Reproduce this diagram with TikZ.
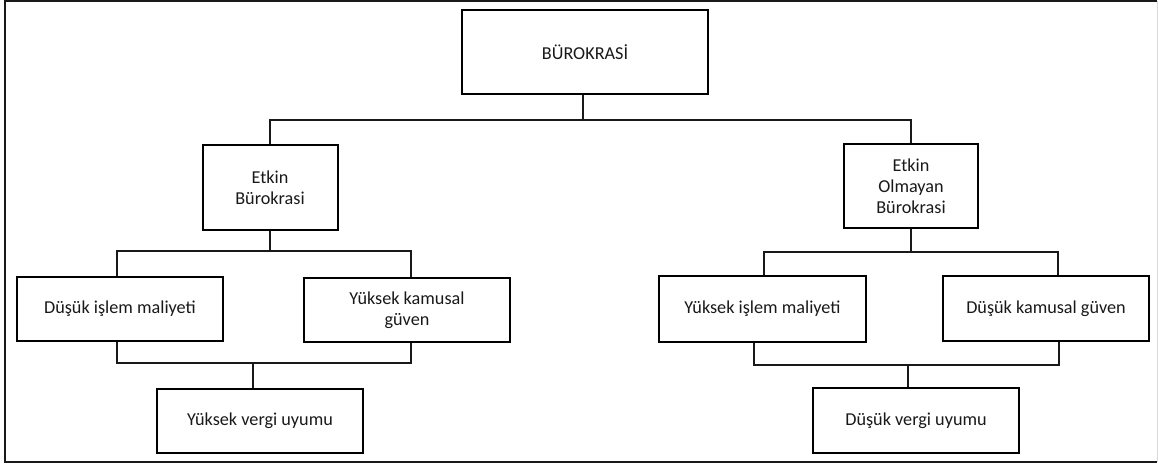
\documentclass[tikz,border=0pt]{standalone}
\usepackage{fontspec}
\setmainfont{Carlito}
\begin{document}
\begin{tikzpicture}[x=1pt,y=-1pt,
  box/.style={draw=black,line width=2pt,rectangle,inner sep=0pt,align=center,
    font=\fontsize{18.2}{21}\selectfont,text=black!90},
  link/.style={draw=black!90,line width=1.3pt}]
\useasboundingbox (0,0) rectangle (1158,466);
% outer frame
\draw[black!90,line width=1.6pt] (1157,1) -- (5,1) -- (5,462) -- (1157,462);
\draw[black!15,line width=0.8pt] (1157,1) -- (1157,462);

% boxes
\node[box,minimum width=246pt,minimum height=84pt] (top) at (585,52) {BÜROKRASİ};
\node[box,minimum width=135pt,minimum height=85pt] (eb) at (270,187.5) {Etkin\\Bürokrasi};
\node[box,minimum width=134pt,minimum height=84pt] (eob) at (911,186) {Etkin\\Olmayan\\Bürokrasi};
\node[box,minimum width=206pt,minimum height=64pt] (dim) at (120,309) {Düşük işlem maliyeti};
\node[box,minimum width=206pt,minimum height=64pt] (ykg) at (407,310) {Yüksek kamusal\\güven};
\node[box,minimum width=206pt,minimum height=64pt] (yvu) at (260,421) {Yüksek vergi uyumu};
\node[box,minimum width=207pt,minimum height=66pt] (yim) at (762.5,309) {Yüksek işlem maliyeti};
\node[box,minimum width=206pt,minimum height=65pt] (dkg) at (1046,308.5) {Düşük kamusal güven};
\node[box,minimum width=206pt,minimum height=65pt] (dvu) at (916,420.5) {Düşük vergi uyumu};

% junction points of the buses
\coordinate (j0) at (583,120);
\coordinate (j1) at (270,251);
\coordinate (j2) at (253,363);
\coordinate (j3) at (911,252);
\coordinate (j4) at (908,365);

% top level
\draw[link] (j0 |- top.south) -- (j0);
\draw[link] (eb.north) |- (j0) -| (eob.north);

% effective bureaucracy branch
\draw[link] (eb.south) -- (j1);
\draw[link] ([xshift=-3pt]dim.north) |- (j1) -| ([xshift=4pt]ykg.north);
\draw[link] ([xshift=-3pt]dim.south) |- (j2) -| ([xshift=4pt]ykg.south);
\draw[link] (j2) -- (j2 |- yvu.north);

% ineffective bureaucracy branch
\draw[link] (eob.south) -- (j3);
\draw[link] ([xshift=1.5pt]yim.north) |- (j3) -| ([xshift=12pt]dkg.north);
\draw[link] ([xshift=-8.5pt]yim.south) |- (j4) -| ([xshift=13pt]dkg.south);
\draw[link] (j4) -- (j4 |- dvu.north);
\end{tikzpicture}
\end{document}
